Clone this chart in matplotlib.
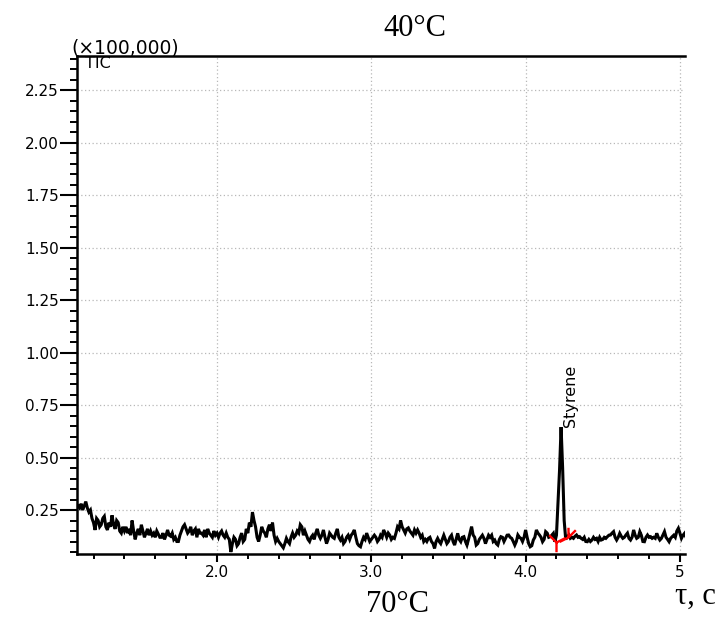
import numpy as np
import matplotlib
matplotlib.use("Agg")
import matplotlib.pyplot as plt
from matplotlib.path import Path

# ---------------- data (intensity in units of 100,000) ----------------
t_start = 1.10
t_step = 0.01
tic_values = [
    0.27, 0.26, 0.28, 0.25, 0.27, 0.29, 0.26, 0.24, 0.25, 0.21,   # 1.10
    0.19, 0.155, 0.21, 0.20, 0.17, 0.18, 0.21, 0.22, 0.17, 0.155,  # 1.20
    0.19, 0.17, 0.225, 0.18, 0.16, 0.20, 0.19, 0.15, 0.14, 0.17,  # 1.30
    0.15, 0.17, 0.14, 0.16, 0.13, 0.20, 0.15, 0.11, 0.14, 0.16,   # 1.40
    0.13, 0.18, 0.15, 0.12, 0.14, 0.16, 0.13, 0.15, 0.13, 0.14,   # 1.50
    0.12, 0.15, 0.135, 0.12, 0.12, 0.14, 0.11, 0.13, 0.155, 0.13,  # 1.60
    0.125, 0.14, 0.11, 0.12, 0.10, 0.10, 0.13, 0.15, 0.17, 0.18,  # 1.70
    0.16, 0.14, 0.15, 0.17, 0.13, 0.15, 0.16, 0.12, 0.16, 0.14,   # 1.80
    0.14, 0.13, 0.155, 0.12, 0.16, 0.14, 0.13, 0.12, 0.15, 0.13,  # 1.90
    0.14, 0.12, 0.14, 0.15, 0.13, 0.12, 0.14, 0.12, 0.11, 0.05,   # 2.00
    0.09, 0.12, 0.11, 0.08, 0.09, 0.12, 0.14, 0.10, 0.11, 0.16,   # 2.10
    0.14, 0.19, 0.17, 0.24, 0.20, 0.17, 0.12, 0.10, 0.13, 0.17,   # 2.20
    0.15, 0.14, 0.12, 0.16, 0.18, 0.15, 0.19, 0.13, 0.10, 0.115,  # 2.30
    0.10, 0.09, 0.08, 0.07, 0.09, 0.115, 0.10, 0.09, 0.12, 0.14,  # 2.40
    0.12, 0.13, 0.15, 0.14, 0.18, 0.17, 0.13, 0.15, 0.13, 0.11,   # 2.50
    0.10, 0.12, 0.13, 0.11, 0.14, 0.16, 0.13, 0.115, 0.13, 0.155,  # 2.60
    0.12, 0.09, 0.11, 0.14, 0.13, 0.12, 0.115, 0.14, 0.16, 0.12,  # 2.70
    0.107, 0.12, 0.09, 0.10, 0.12, 0.13, 0.11, 0.13, 0.14, 0.155,  # 2.80
    0.12, 0.09, 0.08, 0.075, 0.10, 0.12, 0.11, 0.14, 0.12, 0.10,  # 2.90
    0.11, 0.12, 0.13, 0.12, 0.10, 0.11, 0.13, 0.12, 0.155, 0.14,  # 3.00
    0.12, 0.14, 0.13, 0.11, 0.12, 0.115, 0.14, 0.17, 0.16, 0.20,  # 3.10
    0.17, 0.155, 0.14, 0.16, 0.165, 0.15, 0.14, 0.13, 0.155, 0.14,  # 3.20
    0.155, 0.14, 0.12, 0.13, 0.10, 0.11, 0.10, 0.115, 0.12, 0.10,  # 3.30
    0.09, 0.067, 0.10, 0.115, 0.10, 0.09, 0.11, 0.13, 0.11, 0.09,  # 3.40
    0.10, 0.12, 0.13, 0.10, 0.083, 0.11, 0.139, 0.11, 0.099, 0.12,  # 3.50
    0.123, 0.10, 0.083, 0.11, 0.14, 0.171, 0.131, 0.12, 0.083, 0.09,  # 3.60
    0.11, 0.12, 0.13, 0.115, 0.09, 0.11, 0.13, 0.12, 0.13, 0.10,  # 3.70
    0.107, 0.09, 0.083, 0.11, 0.123, 0.12, 0.10, 0.115, 0.13, 0.131,  # 3.80
    0.12, 0.115, 0.10, 0.083, 0.10, 0.131, 0.12, 0.115, 0.10, 0.12,  # 3.90
    0.155, 0.12, 0.09, 0.075, 0.08, 0.107, 0.12, 0.155, 0.14, 0.131,  # 4.00
    0.12, 0.099, 0.11, 0.147, 0.14, 0.12, 0.123, 0.13, 0.139, 0.099,  # 4.10
    0.13, 0.28, 0.44, 0.645, 0.45, 0.20, 0.11, 0.123, 0.131, 0.115,  # 4.20
    0.12, 0.115, 0.125, 0.131, 0.12, 0.123, 0.115, 0.11, 0.12, 0.10,  # 4.30
    0.099, 0.11, 0.10, 0.107, 0.12, 0.11, 0.115, 0.10, 0.12, 0.107,  # 4.40
    0.11, 0.12, 0.115, 0.123, 0.13, 0.131, 0.14, 0.147, 0.12, 0.107,  # 4.50
    0.12, 0.139, 0.125, 0.115, 0.12, 0.131, 0.14, 0.115, 0.107, 0.12,  # 4.60
    0.155, 0.13, 0.115, 0.12, 0.147, 0.13, 0.10, 0.099, 0.12, 0.131,  # 4.70
    0.12, 0.123, 0.115, 0.12, 0.115, 0.139, 0.12, 0.107, 0.115, 0.131,  # 4.80
    0.147, 0.12, 0.11, 0.099, 0.115, 0.123, 0.13, 0.12, 0.15, 0.163,  # 4.90
    0.14, 0.115, 0.13, 0.139, 0.12, 0.107,                          # 5.00
]

peak_name = "Styrene"
peak_bounds_t = [4.195, 4.278]
peak_bounds_v = [0.099, 0.123]

y_ticks = [0.25, 0.50, 0.75, 1.00, 1.25, 1.50, 1.75, 2.00, 2.25]
y_tick_labels = ["0.25", "0.50", "0.75", "1.00", "1.25", "1.50", "1.75", "2.00", "2.25"]
x_ticks = [2.0, 3.0, 4.0, 5.0]
x_tick_labels = ["2.0", "3.0", "4.0", "5"]

title_top = "40°C"
title_bottom = "70°C"
x_unit = "τ, c"
y_scale_label = "(×100,000)"
trace_label = "TIC"

# ---------------- figure ----------------
W, H = 719, 630
fig = plt.figure(figsize=(W / 100, H / 100), dpi=100)
L, R, T, B = 77, 685, 56, 554
ax = fig.add_axes([L / W, 1 - B / H, (R - L) / W, (B - T) / H])

t = t_start + t_step * np.arange(len(tic_values))
v = np.array(tic_values)

ax.set_xlim(1.093, 5.033)
ax.set_ylim(0.0405, 2.412)

ax.grid(True, which="major", color="#b8b8b8", linestyle=(0, (1, 2)), linewidth=0.9)
ax.set_axisbelow(True)

ax.plot(t, v, color="black", lw=2.2, solid_joinstyle="miter")

# peak start / end markers
left_marker = Path([(0, 0), (0, -1.2), (0, 0), (1.1, 0.55), (0, 0), (-0.9, 0.9)],
                   [Path.MOVETO, Path.LINETO, Path.MOVETO, Path.LINETO, Path.MOVETO, Path.LINETO])
right_marker = Path([(0, 0), (0, 1.2), (0, 0), (-1.1, -0.55), (0, 0), (0.9, 0.9)],
                    [Path.MOVETO, Path.LINETO, Path.MOVETO, Path.LINETO, Path.MOVETO, Path.LINETO])
ax.plot(peak_bounds_t[0], peak_bounds_v[0], marker=left_marker, ms=14, mec="red", mew=1.7, ls="none")
ax.plot(peak_bounds_t[1], peak_bounds_v[1], marker=right_marker, ms=14, mec="red", mew=1.7, ls="none")

# peak label
ip = int(np.argmax(v))
ax.annotate(peak_name, xy=(t[ip], v[ip]), xytext=(7, 0), textcoords="offset points",
            rotation=90, ha="center", va="bottom", fontsize=11.5, family="DejaVu Sans")

ax.set_yticks(y_ticks)
ax.set_yticklabels(y_tick_labels)
ax.set_yticks(np.arange(0.05, 2.41, 0.05), minor=True)
ax.set_xticks(x_ticks)
ax.set_xticklabels(x_tick_labels)
ax.set_xticks(np.arange(1.2, 5.01, 0.2), minor=True)

ax.tick_params(axis="y", which="major", direction="out", length=12, width=1.5, labelsize=11, pad=1)
ax.tick_params(axis="y", which="minor", direction="out", length=5, width=1.4)
ax.tick_params(axis="x", which="major", direction="out", length=6, width=1.5, labelsize=11, pad=2)
ax.tick_params(axis="x", which="minor", direction="out", length=3.5, width=1.4)

for s in ["left", "bottom", "top"]:
    ax.spines[s].set_linewidth(1.8)
ax.spines["right"].set_visible(False)

ax.text(8 / (R - L), 0.999, trace_label, transform=ax.transAxes, ha="left", va="top", fontsize=11.5)
fig.text(125 / W, 1 - 48 / H, y_scale_label, ha="center", va="center", fontsize=13.5)

serif = ["Liberation Serif", "DejaVu Serif"]
fig.text(415 / W, 1 - 28 / H, title_top, ha="center", va="center", fontsize=22, family=serif)
fig.text(397 / W, 1 - 605 / H, title_bottom, ha="center", va="center", fontsize=22, family=serif)
fig.text(695 / W, 1 - 604 / H, x_unit, ha="center", va="baseline", fontsize=22, family=serif)

fig.savefig("out.png", dpi=100)
